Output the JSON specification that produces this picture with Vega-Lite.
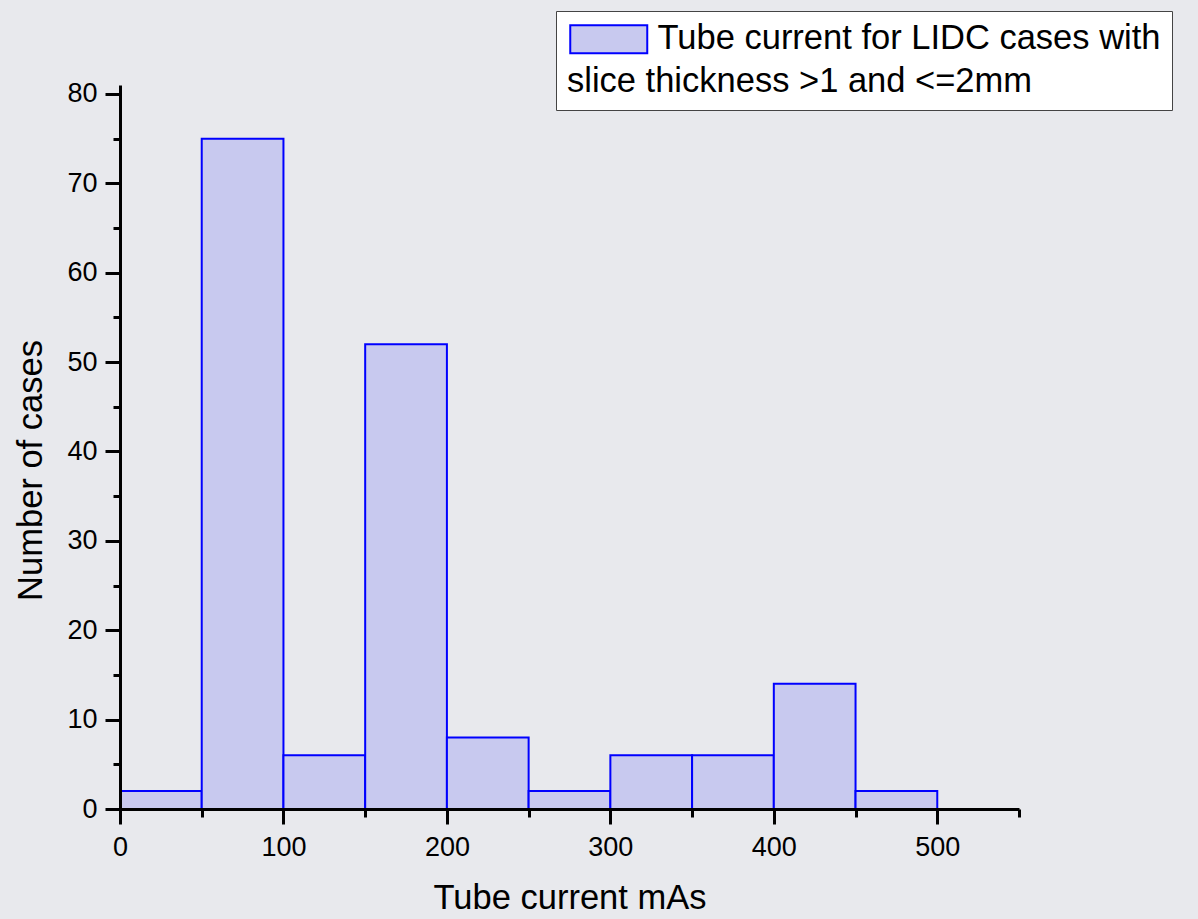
{
  "$schema": "https://vega.github.io/schema/vega-lite/v6.json",
  "width": 899,
  "height": 724,
  "autosize": {"type": "none"},
  "padding": {"left": 120, "top": 85, "right": 179, "bottom": 110},
  "background": "#e8e9ed",
  "config": {"view": {"stroke": null}, "font": "Liberation Sans"},
  "data": {
    "values": [
      {"bin_start": 0, "bin_end": 50, "count": 2},
      {"bin_start": 50, "bin_end": 100, "count": 75},
      {"bin_start": 100, "bin_end": 150, "count": 6},
      {"bin_start": 150, "bin_end": 200, "count": 52},
      {"bin_start": 200, "bin_end": 250, "count": 8},
      {"bin_start": 250, "bin_end": 300, "count": 2},
      {"bin_start": 300, "bin_end": 350, "count": 6},
      {"bin_start": 350, "bin_end": 400, "count": 6},
      {"bin_start": 400, "bin_end": 450, "count": 14},
      {"bin_start": 450, "bin_end": 500, "count": 2}
    ]
  },
  "mark": {"type": "bar", "stroke": "#0000ff", "strokeWidth": 2, "strokeJoin": "miter"},
  "encoding": {
    "x": {
      "field": "bin_start",
      "type": "quantitative",
      "scale": {"domain": [0, 550], "nice": false, "zero": false},
      "axis": {
        "values": [0, 50, 100, 150, 200, 250, 300, 350, 400, 450, 500, 550],
        "labelExpr": "datum.value % 100 === 0 ? datum.label : ''",
        "tickSize": {"condition": {"test": "datum.value % 100 === 0", "value": 15}, "value": 8},
        "tickWidth": 3,
        "tickColor": "black",
        "domainWidth": 3,
        "domainColor": "black",
        "grid": false,
        "labelFontSize": 27,
        "labelColor": "black",
        "labelPadding": 10,
        "labelFlush": false,
        "labelOverlap": false,
        "labelBound": false,
        "title": "Tube current mAs",
        "titleFontSize": 34.5,
        "titleFontWeight": "normal",
        "titleColor": "black",
        "titlePadding": 21,
        "zindex": 1
      }
    },
    "x2": {"field": "bin_end"},
    "y": {
      "field": "count",
      "type": "quantitative",
      "scale": {"domain": [0, 81], "nice": false},
      "axis": {
        "values": [0, 5, 10, 15, 20, 25, 30, 35, 40, 45, 50, 55, 60, 65, 70, 75, 80],
        "labelExpr": "datum.value % 10 === 0 ? datum.label : ''",
        "tickSize": {"condition": {"test": "datum.value % 10 === 0", "value": 15}, "value": 7},
        "tickWidth": 3,
        "tickColor": "black",
        "domainWidth": 3,
        "domainColor": "black",
        "grid": false,
        "labelFontSize": 27,
        "labelColor": "black",
        "labelPadding": 8,
        "labelOverlap": false,
        "labelBound": false,
        "title": "Number of cases",
        "titleFontSize": 34.5,
        "titleFontWeight": "normal",
        "titleColor": "black",
        "titlePadding": 18,
        "titleY": 385,
        "zindex": 1
      }
    },
    "y2": {"datum": 0},
    "fill": {
      "datum": "Tube current for LIDC cases with",
      "type": "nominal",
      "scale": {"range": ["#c8c9ef"]},
      "legend": {
        "orient": "none",
        "legendX": 436,
        "legendY": -74,
        "title": "slice thickness >1 and <=2mm",
        "titleOrient": "bottom",
        "titleAnchor": "start",
        "titleFontSize": 34.5,
        "titleFontWeight": "normal",
        "titleColor": "black",
        "titlePadding": 8,
        "titleLimit": 0,
        "labelFontSize": 34.5,
        "labelColor": "black",
        "labelLimit": 0,
        "labelOffset": 56,
        "symbolType": "M-1,-1H4.5V1H-1Z",
        "symbolSize": 784,
        "symbolStrokeColor": "#0000ff",
        "symbolStrokeWidth": 2,
        "symbolFillColor": "#c8c9ef",
        "symbolOpacity": 1,
        "padding": 11,
        "strokeColor": "#444444",
        "fillColor": "#ffffff"
      }
    }
  }
}
